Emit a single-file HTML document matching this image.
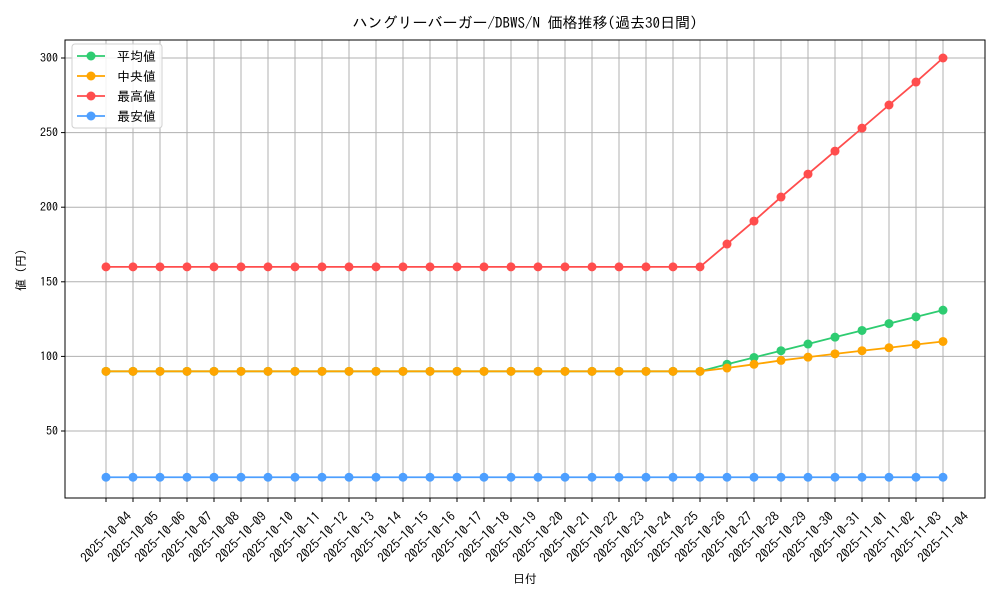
<!DOCTYPE html>
<html><head><meta charset="utf-8">
<style>
body{margin:0;background:#fff;}
svg text{font-family:"IPAGothic","Liberation Sans","Noto Sans CJK JP",sans-serif;fill:#000;}
</style></head>
<body>
<svg id="c" width="1000" height="600"></svg>
<script>
const dates=["2025-10-04","2025-10-05","2025-10-06","2025-10-07","2025-10-08","2025-10-09","2025-10-10","2025-10-11","2025-10-12","2025-10-13","2025-10-14","2025-10-15","2025-10-16","2025-10-17","2025-10-18","2025-10-19","2025-10-20","2025-10-21","2025-10-22","2025-10-23","2025-10-24","2025-10-25","2025-10-26","2025-10-27","2025-10-28","2025-10-29","2025-10-30","2025-10-31","2025-11-01","2025-11-02","2025-11-03","2025-11-04"];
const avgValues=[90,90,90,90,90,90,90,90,90,90,90,90,90,90,90,90,90,90,90,90,90,90,90,94.7,99.3,103.8,108.3,112.9,117.4,122,126.5,131];
const medianValues=[90,90,90,90,90,90,90,90,90,90,90,90,90,90,90,90,90,90,90,90,90,90,90,92.2,94.7,97.3,99.5,101.7,103.8,105.8,108,110];
const maxValues=[160,160,160,160,160,160,160,160,160,160,160,160,160,160,160,160,160,160,160,160,160,160,160,175.3,190.7,206.8,222.2,237.6,253,268.5,283.9,300];
const minValues=[19,19,19,19,19,19,19,19,19,19,19,19,19,19,19,19,19,19,19,19,19,19,19,19,19,19,19,19,19,19,19,19];
const yTicks=[50,100,150,200,250,300];
</script>
<script>
const NS="http://www.w3.org/2000/svg";
const svg=document.getElementById('c');
function el(t,a,p){const e=document.createElementNS(NS,t);for(const k in a)e.setAttribute(k,a[k]);(p||svg).appendChild(e);return e;}
const L=65,R=985,T=40,B=498;
const x=i=>106+i*(943-106)/(dates.length-1);
const y=v=>505.6-v*(505.6-58)/300;
const grid=el('g',{});


dates.forEach((d,i)=>{
 el('line',{x1:x(i),x2:x(i),y1:T,y2:B,stroke:'#b0b0b0','stroke-width':1},grid);
 el('line',{x1:x(i),x2:x(i),y1:B,y2:B+4,stroke:'#000'},grid);
 const cy=537;
 const t=el('text',{x:x(i),y:cy,'font-size':13,'text-anchor':'middle','dominant-baseline':'central',transform:`rotate(-45 ${x(i)} ${cy})`},svg);
 
 
 t.textContent=d;
});
yTicks.forEach(v=>{
 el('line',{x1:L,x2:R,y1:y(v),y2:y(v),stroke:'#b0b0b0','stroke-width':1},grid);
 el('line',{x1:L-4,x2:L,y1:y(v),y2:y(v),stroke:'#000'},grid);
 const t=el('text',{x:L-7,y:y(v)+4,'font-size':12,'text-anchor':'end'});
 
 
 t.textContent=v;
});
const series=[[avgValues,'#2ecc71','平均値','avg'],[medianValues,'#ffa500','中央値','median'],[maxValues,'#ff4d4d','最高値','max'],[minValues,'#4d9fff','最安値','min']];
series.forEach(([vals,c,n,k])=>{
 const g=el('g',{});
 
 
 el('polyline',{points:vals.map((v,i)=>x(i)+','+y(v)).join(' '),fill:'none',stroke:c,'stroke-width':1.8},g);
 vals.forEach((v,i)=>{const p=el('circle',{cx:x(i),cy:y(v),r:4.5,fill:c},g);
  
  });
});
el('rect',{x:L,y:T,width:R-L,height:B-T,fill:'none',stroke:'#000','stroke-width':1});
const lg=el('g',{});


el('rect',{x:72,y:44,width:90,height:84,rx:3,fill:'#fff','fill-opacity':0.85,stroke:'#d0d0d0'},lg);
series.forEach(([v,c,n,k],i)=>{
 const yy=56+i*20;
 const e=el('g',{},lg);
 
 
 el('line',{x1:77,x2:105,y1:yy,y2:yy,stroke:c,'stroke-width':1.8},e);
 el('circle',{cx:91,cy:yy,r:4.5,fill:c},e);
 const t=el('text',{x:117,y:yy+5,'font-size':13},e);t.textContent=n;
});
const tt=el('text',{x:525,y:28,'font-size':15,'text-anchor':'middle'});


tt.textContent='ハングリーバーガー/DBWS/N 価格推移(過去30日間)';
const xt=el('text',{x:525,y:583,'font-size':12,'text-anchor':'middle'});


xt.textContent='日付';
const yt=el('text',{x:25,y:270,'font-size':12,'text-anchor':'middle',transform:'rotate(-90 25 270)'});


yt.textContent='値 (円)';
</script>
</body></html>
